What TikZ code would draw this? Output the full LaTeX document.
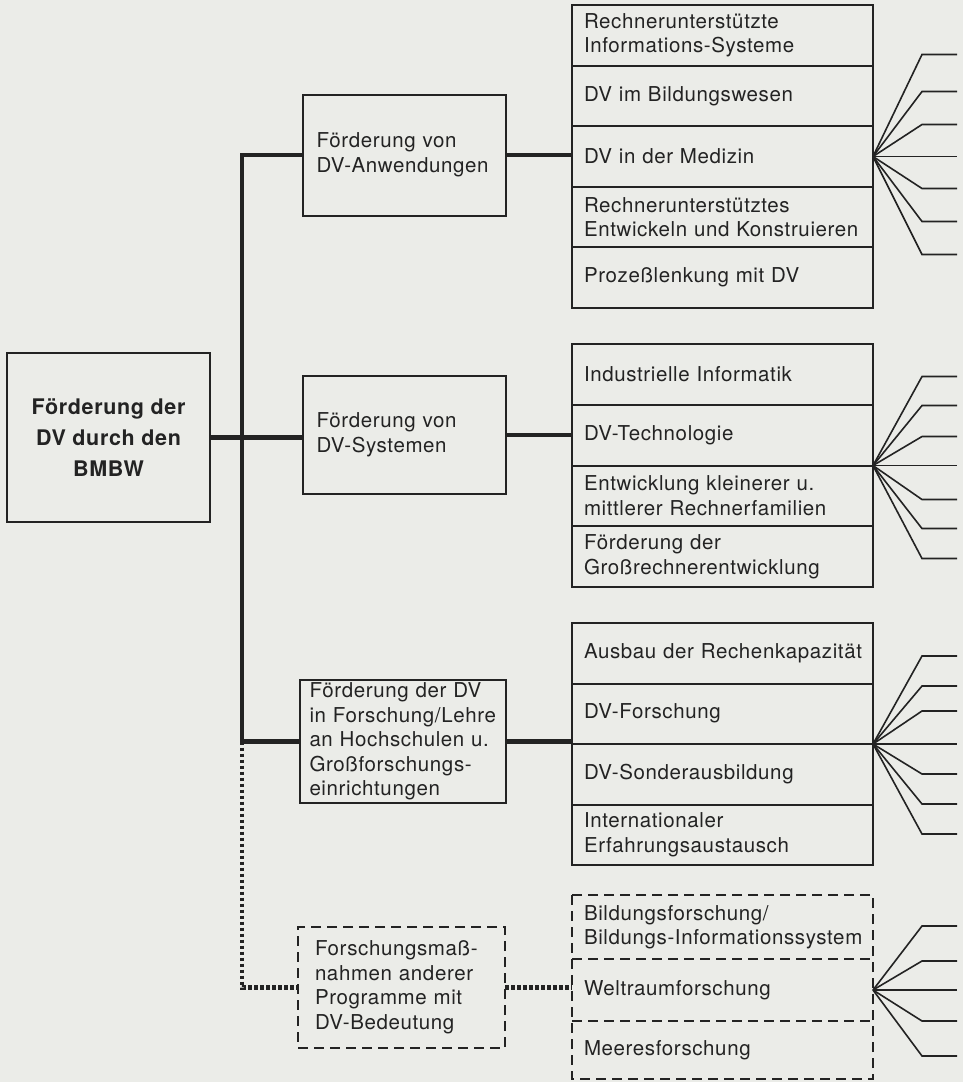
\documentclass[tikz,border=0pt]{standalone}
\usepackage{fontspec}
\setmainfont{TeX Gyre Heros}[LetterSpace=3]
\usetikzlibrary{positioning}
\definecolor{paper}{RGB}{235,236,232}
\definecolor{ink}{RGB}{35,35,35}

\begin{document}
\begin{tikzpicture}[x=1pt,y=-1pt,inner sep=0pt,outer sep=0pt,color=ink,line width=2pt,
every node/.style={font=\fontsize{20.5}{24.5}\selectfont},
mainblock/.style={draw,rectangle,minimum width=203pt,minimum height=169pt,align=center,
  font=\fontsize{21.5}{31}\selectfont\bfseries},
midblock/.style={draw,rectangle,minimum width=203pt,minimum height=121pt,text width=#1,align=left},
item/.style={draw,rectangle,minimum width=301pt,minimum height=#1,text width=277pt,align=left},
ditem/.style={rectangle,minimum width=301pt,minimum height=#1,text width=277pt,align=left},
trunk/.style={line width=4.5pt},
dotline/.style={line width=4.5pt,dash pattern=on 3.5pt off 2.5pt},
dashline/.style={dash pattern=on 10pt off 6pt},
fan/.style={line width=1.6pt}]

\fill[paper] (0,0) rectangle (963,1082);

% left block
\node[mainblock] (bmbw) at (108.5,437.5) {Förderung der\\DV durch den\\BMBW};

% middle blocks
\node[midblock=175pt] (anw) at (404,155) {Förderung von\\DV-Anwendungen};
\node[midblock=175pt,minimum height=118pt] (sys) at (404,435) {Förderung von\\DV-Systemen};
\node[midblock=187pt,minimum width=206pt,minimum height=123pt] (hs) at (403,741.5)
  {Förderung der DV\\in Forschung/Lehre\\an Hochschulen u.\\Großforschungs-\\einrichtungen};
\node[midblock=173pt,minimum width=207pt,dashline] (prog) at (401.5,987.5)
  {Forschungsmaß-\\nahmen anderer\\Programme mit\\DV-Bedeutung};

% group 1
\node[item=60.6pt] (g1r1) at (722.5,35.3) {Rechnerunterstützte\\Informations-Systeme};
\node[item=60.6pt,below=0pt of g1r1] (g1r2) {DV im Bildungswesen};
\node[item=60.6pt,below=0pt of g1r2] (g1r3) {DV in der Medizin};
\node[item=60.6pt,below=0pt of g1r3] (g1r4) {Rechnerunterstütztes\\Entwickeln und Konstruieren};
\node[item=60.6pt,below=0pt of g1r4] (g1r5) {Prozeßlenkung mit DV};

% group 2
\node[item=60.75pt] (g2r1) at (722.5,374.4) {Industrielle Informatik};
\node[item=60.75pt,below=0pt of g2r1] (g2r2) {DV-Technologie};
\node[item=60.75pt,below=0pt of g2r2] (g2r3) {Entwicklung kleinerer u.\\mittlerer Rechnerfamilien};
\node[item=60.75pt,below=0pt of g2r3] (g2r4) {Förderung der\\Großrechnerentwicklung};

% group 3
\node[item=60.5pt] (g3r1) at (722.5,653.25) {Ausbau der Rechenkapazität};
\node[item=60.5pt,below=0pt of g3r1] (g3r2) {DV-Forschung};
\node[item=60.5pt,below=0pt of g3r2] (g3r3) {DV-Sonderausbildung};
\node[item=60.5pt,below=0pt of g3r3] (g3r4) {Internationaler\\Erfahrungsaustausch};

% group 4 (dashed)
\node[ditem=64pt] (g4r1) at (722.5,927) {Bildungsforschung/\\\mbox{Bildungs-Informationssystem}};
\node[ditem=62pt,below=0pt of g4r1] (g4r2) {Weltraumforschung};
\node[ditem=58pt,below=0pt of g4r2] (g4r3) {Meeresforschung};
\draw[dashline] (g4r1.north west) rectangle (g4r3.south east);
\draw[dashline] (g4r1.south west) -- (g4r1.south east);
\draw[dashline] (g4r2.south west) -- (g4r2.south east);

% connectors
\coordinate (t) at (242,0);
\draw[trunk] (anw.west) -- (anw.west -| t) -- (hs.west -| t) -- (hs.west);
\draw[trunk] (bmbw.east) -- (bmbw.east -| sys.west);
\draw[dotline] (hs.west -| t) -- (prog.west -| t) -- (prog.west);
\draw[trunk] (anw.east) -- (anw.east -| g1r3.west);
\draw[trunk] (sys.east) -- (sys.east -| g2r2.west);
\draw[trunk] (hs.east) -- (hs.east -| g3r2.west);
\draw[dotline] (prog.east) -- (prog.east -| g4r2.west);

% fans
\foreach \dy in {-102,-65,-32,0,32,65,98}
  \draw[fan] (g1r3.east) -- ++(49,\dy) -- ++(35,0);
\foreach \dy in {-89,-60,-29,0,34,63,93}
  \draw[fan] (g2r2.south east) -- ++(49,\dy) -- ++(35,0);
\foreach \dy in {-88,-58,-33,0,30,60,90}
  \draw[fan] (g3r2.south east) -- ++(49,\dy) -- ++(35,0);
\foreach \dy in {-64,-29,0,31,66}
  \draw[fan] (g4r2.east) -- ++(49,\dy) -- ++(35,0);
\end{tikzpicture}
\end{document}
